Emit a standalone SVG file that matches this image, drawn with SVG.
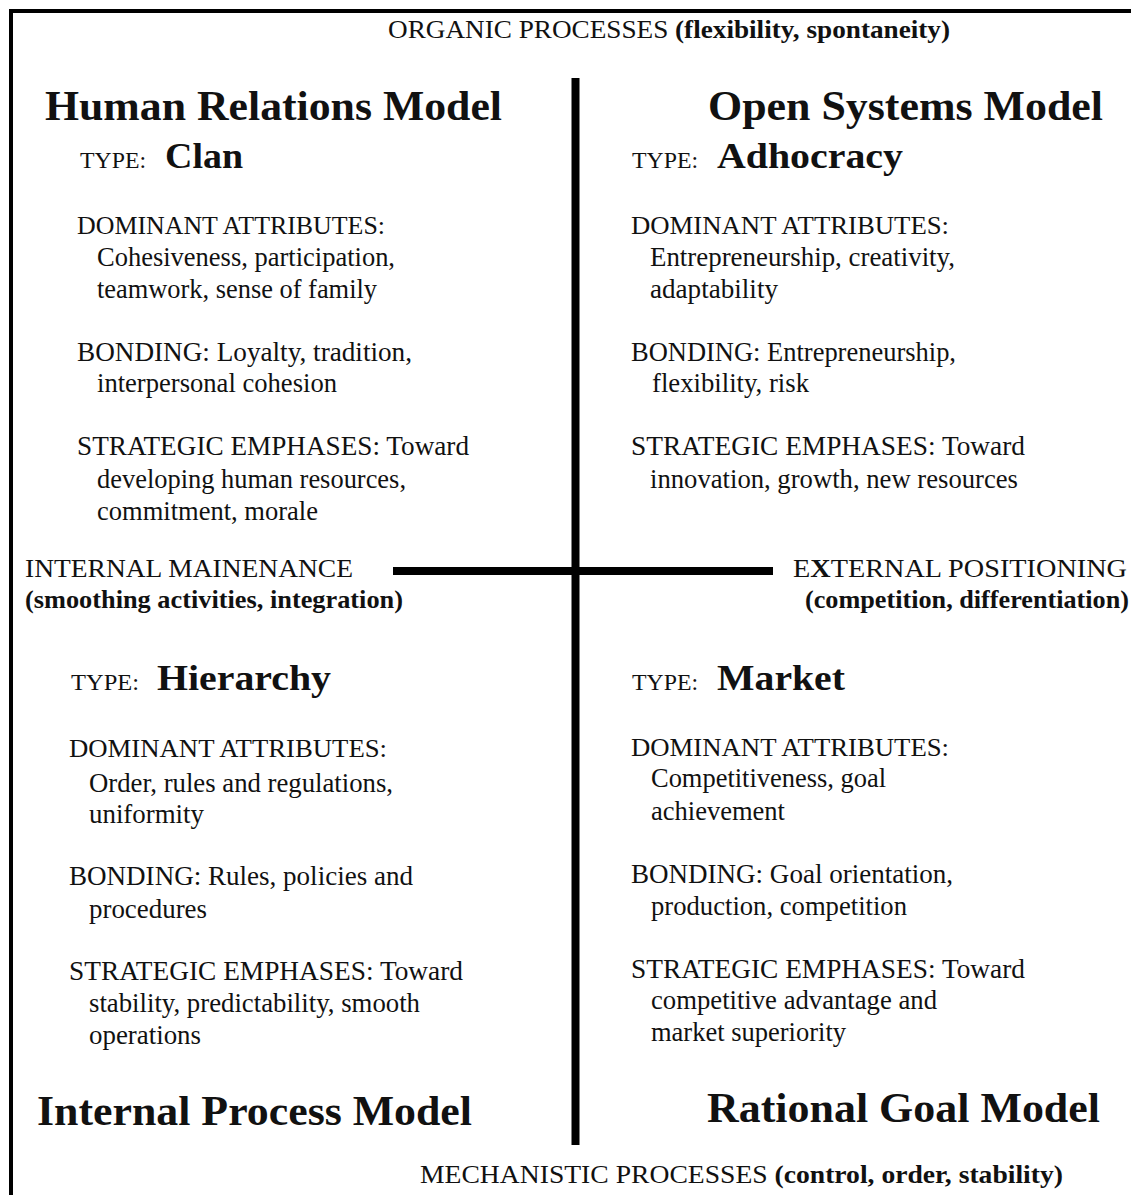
<svg xmlns="http://www.w3.org/2000/svg" width="1131" height="1195" viewBox="0 0 1131 1195" font-family="Liberation Serif, Times New Roman, Times, serif">
  <style>
    text { fill: #111; }
    .body { font-size: 27px; }
    .cap { font-size: 26px; }
    .type { font-size: 24px; }
    .tname { font-size: 36px; font-weight: bold; }
    .model { font-size: 43px; font-weight: bold; }
    .axis { font-size: 25px; }
    .b { font-weight: bold; }
    .frame { fill: none; stroke: #000; stroke-width: 4; }
    .rule { stroke: #000; stroke-width: 8; }
  </style>

  <!-- outer frame: top and left edges -->
  <path class="frame" d="M11 1195 V11 H1131"/>

  <!-- axes -->
  <g id="connectors">
    <line class="rule" x1="575.5" y1="78" x2="575.5" y2="1145"/>
    <line class="rule" x1="393" y1="571" x2="773" y2="571"/>
  </g>

  <!-- axis labels -->
  <g id="axis-top">
    <text class="axis" x="388" y="38" textLength="562" lengthAdjust="spacingAndGlyphs">ORGANIC PROCESSES <tspan class="b">(flexibility, spontaneity)</tspan></text>
  </g>
  <g id="axis-left">
    <text class="axis" x="25" y="577" textLength="328" lengthAdjust="spacingAndGlyphs">INTERNAL MAINENANCE</text>
    <text class="axis b" x="25" y="608" textLength="378" lengthAdjust="spacingAndGlyphs">(smoothing activities, integration)</text>
  </g>
  <g id="axis-right">
    <text class="axis" x="793" y="577" textLength="334" lengthAdjust="spacingAndGlyphs">E<tspan class="b">X</tspan>TERNAL POSITIONING</text>
    <text class="axis b" x="805" y="608" textLength="324" lengthAdjust="spacingAndGlyphs">(competition, differentiation)</text>
  </g>
  <g id="axis-bottom">
    <text class="axis" x="420" y="1183" textLength="643" lengthAdjust="spacingAndGlyphs">MECHANISTIC PROCESSES  <tspan class="b">(control, order, stability)</tspan></text>
  </g>

  <!-- top-left quadrant -->
  <g id="human-relations">
    <text class="model" x="45" y="120" textLength="457" lengthAdjust="spacingAndGlyphs">Human Relations Model</text>
    <text class="type" x="80" y="168" textLength="66" lengthAdjust="spacingAndGlyphs">TYPE:</text>
    <text class="tname" x="165" y="168" textLength="78" lengthAdjust="spacingAndGlyphs">Clan</text>
    <text class="cap" x="77" y="234" textLength="308" lengthAdjust="spacingAndGlyphs">DOMINANT ATTRIBUTES:</text>
    <text class="body" x="97" y="266" textLength="298" lengthAdjust="spacingAndGlyphs">Cohesiveness, participation,</text>
    <text class="body" x="97" y="298" textLength="280" lengthAdjust="spacingAndGlyphs">teamwork, sense of family</text>
    <text class="body" x="77" y="361" textLength="335" lengthAdjust="spacingAndGlyphs">BONDING:  Loyalty, tradition,</text>
    <text class="body" x="97" y="392" textLength="240" lengthAdjust="spacingAndGlyphs">interpersonal cohesion</text>
    <text class="body" x="77" y="455" textLength="392" lengthAdjust="spacingAndGlyphs">STRATEGIC EMPHASES:  Toward</text>
    <text class="body" x="97" y="488" textLength="309" lengthAdjust="spacingAndGlyphs">developing human resources,</text>
    <text class="body" x="97" y="520" textLength="221" lengthAdjust="spacingAndGlyphs">commitment, morale</text>
  </g>

  <!-- top-right quadrant -->
  <g id="open-systems">
    <text class="model" x="708" y="120" textLength="395" lengthAdjust="spacingAndGlyphs">Open Systems Model</text>
    <text class="type" x="632" y="168" textLength="66" lengthAdjust="spacingAndGlyphs">TYPE:</text>
    <text class="tname" x="717" y="168" textLength="186" lengthAdjust="spacingAndGlyphs">Adhocracy</text>
    <text class="cap" x="631" y="234" textLength="318" lengthAdjust="spacingAndGlyphs">DOMINANT ATTRIBUTES:</text>
    <text class="body" x="650" y="266" textLength="305" lengthAdjust="spacingAndGlyphs">Entrepreneurship, creativity,</text>
    <text class="body" x="650" y="298" textLength="128" lengthAdjust="spacingAndGlyphs">adaptability</text>
    <text class="body" x="631" y="361" textLength="325" lengthAdjust="spacingAndGlyphs">BONDING: Entrepreneurship,</text>
    <text class="body" x="652" y="392" textLength="157" lengthAdjust="spacingAndGlyphs">flexibility, risk</text>
    <text class="body" x="631" y="455" textLength="394" lengthAdjust="spacingAndGlyphs">STRATEGIC EMPHASES:  Toward</text>
    <text class="body" x="650" y="488" textLength="368" lengthAdjust="spacingAndGlyphs">innovation, growth, new resources</text>
  </g>

  <!-- bottom-left quadrant -->
  <g id="internal-process">
    <text class="type" x="71" y="690" textLength="68" lengthAdjust="spacingAndGlyphs">TYPE:</text>
    <text class="tname" x="157" y="690" textLength="174" lengthAdjust="spacingAndGlyphs">Hierarchy</text>
    <text class="cap" x="69" y="757" textLength="318" lengthAdjust="spacingAndGlyphs">DOMINANT ATTRIBUTES:</text>
    <text class="body" x="89" y="792" textLength="304" lengthAdjust="spacingAndGlyphs">Order, rules and regulations,</text>
    <text class="body" x="89" y="823" textLength="115" lengthAdjust="spacingAndGlyphs">uniformity</text>
    <text class="body" x="69" y="885" textLength="344" lengthAdjust="spacingAndGlyphs">BONDING:  Rules, policies and</text>
    <text class="body" x="89" y="918" textLength="118" lengthAdjust="spacingAndGlyphs">procedures</text>
    <text class="body" x="69" y="980" textLength="394" lengthAdjust="spacingAndGlyphs">STRATEGIC EMPHASES:  Toward</text>
    <text class="body" x="89" y="1012" textLength="331" lengthAdjust="spacingAndGlyphs">stability, predictability, smooth</text>
    <text class="body" x="89" y="1044" textLength="112" lengthAdjust="spacingAndGlyphs">operations</text>
    <text class="model" x="37" y="1125" textLength="435" lengthAdjust="spacingAndGlyphs">Internal Process Model</text>
  </g>

  <!-- bottom-right quadrant -->
  <g id="rational-goal">
    <text class="type" x="632" y="690" textLength="66" lengthAdjust="spacingAndGlyphs">TYPE:</text>
    <text class="tname" x="717" y="690" textLength="128" lengthAdjust="spacingAndGlyphs">Market</text>
    <text class="cap" x="631" y="756" textLength="318" lengthAdjust="spacingAndGlyphs">DOMINANT ATTRIBUTES:</text>
    <text class="body" x="651" y="787" textLength="235" lengthAdjust="spacingAndGlyphs">Competitiveness, goal</text>
    <text class="body" x="651" y="820" textLength="134" lengthAdjust="spacingAndGlyphs">achievement</text>
    <text class="body" x="631" y="883" textLength="322" lengthAdjust="spacingAndGlyphs">BONDING:  Goal orientation,</text>
    <text class="body" x="651" y="915" textLength="256" lengthAdjust="spacingAndGlyphs">production, competition</text>
    <text class="body" x="631" y="978" textLength="394" lengthAdjust="spacingAndGlyphs">STRATEGIC EMPHASES:  Toward</text>
    <text class="body" x="651" y="1009" textLength="286" lengthAdjust="spacingAndGlyphs">competitive advantage and</text>
    <text class="body" x="651" y="1041" textLength="195" lengthAdjust="spacingAndGlyphs">market superiority</text>
    <text class="model" x="707" y="1122" textLength="393" lengthAdjust="spacingAndGlyphs">Rational Goal Model</text>
  </g>
</svg>
